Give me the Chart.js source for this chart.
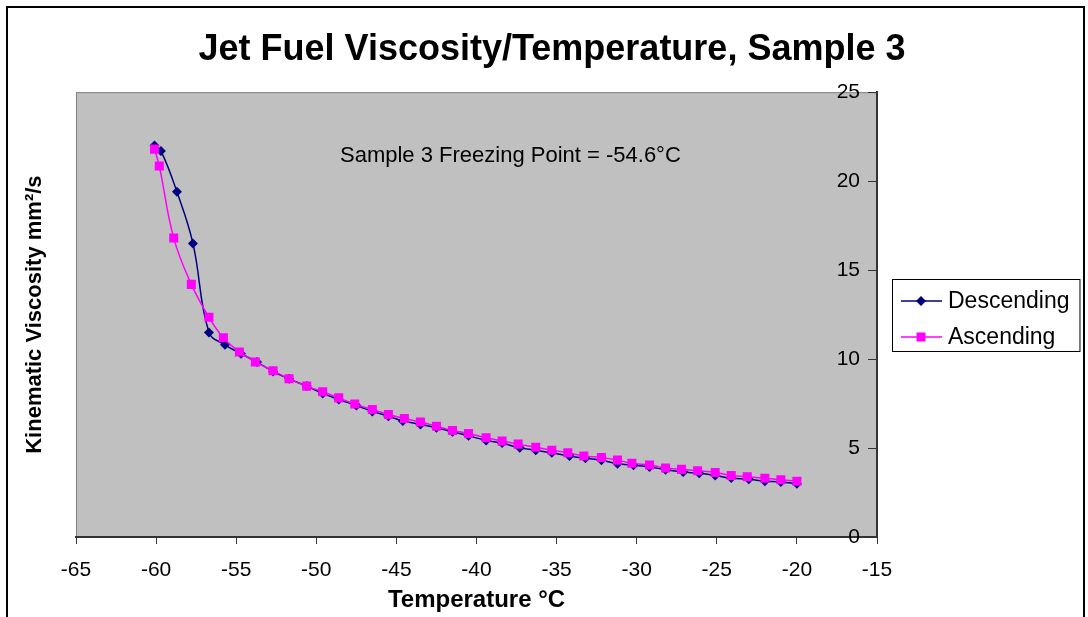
<!DOCTYPE html>
<html>
<head>
<meta charset="utf-8">
<title>Jet Fuel Viscosity/Temperature, Sample 3</title>
<script src="https://cdn.jsdelivr.net/npm/chart.js@4.4.1/dist/chart.umd.min.js"></script>
<style>
  html, body { margin: 0; padding: 0; background: #fff; overflow: hidden; }
  #frame { position: absolute; left: 6px; top: 6px; width: 1079px; height: 700px; border: 2px solid #000; box-sizing: border-box; }
  #wrap { position: absolute; left: 0; top: 0; width: 1088px; height: 617px; }
</style>
</head>
<body>
<div id="frame"></div>
<div id="wrap"><canvas id="viscChart" width="1088" height="617"></canvas></div>
<script>
// data
const descTemp = [-60.1, -59.7, -58.7, -57.7, -56.7, -55.7, -54.7, -53.7, -52.7, -51.7, -50.6, -49.6, -48.6, -47.5, -46.5, -45.5,
  -44.6, -43.5, -42.5, -41.5, -40.5, -39.4, -38.4, -37.3, -36.3, -35.3, -34.2, -33.2, -32.2, -31.2, -30.2, -29.2,
  -28.2, -27.1, -26.1, -25.1, -24.1, -23.0, -22.0, -21.0, -20.0];
const descVisc = [22.0, 21.7, 19.4, 16.5, 11.5, 10.8, 10.3, 9.83, 9.30, 8.89, 8.48, 8.07, 7.73, 7.39, 7.06, 6.79,
  6.52, 6.33, 6.14, 5.92, 5.69, 5.43, 5.28, 5.01, 4.88, 4.73, 4.55, 4.42, 4.32, 4.12, 4.03, 3.94,
  3.78, 3.65, 3.58, 3.46, 3.31, 3.24, 3.14, 3.09, 2.99];

const ascTemp = [-60.1, -59.8, -58.9, -57.8, -56.7, -55.8, -54.8, -53.8, -52.7, -51.7, -50.6, -49.6, -48.6, -47.6, -46.5, -45.5,
  -44.5, -43.5, -42.5, -41.5, -40.5, -39.4, -38.4, -37.4, -36.3, -35.3, -34.3, -33.3, -32.2, -31.2, -30.3, -29.2,
  -28.2, -27.2, -26.2, -25.1, -24.1, -23.1, -22.0, -21.0, -20.0];
const ascVisc = [21.8, 20.85, 16.8, 14.2, 12.35, 11.2, 10.4, 9.84, 9.34, 8.89, 8.48, 8.16, 7.82, 7.47, 7.17, 6.89,
  6.66, 6.46, 6.23, 5.99, 5.82, 5.58, 5.39, 5.22, 5.04, 4.88, 4.73, 4.55, 4.47, 4.32, 4.14, 4.05,
  3.88, 3.80, 3.72, 3.63, 3.46, 3.39, 3.30, 3.22, 3.13];

const xTicks = { min: -65, max: -15, step: 5 };
const yTicks = { min: 0, max: 25, step: 5 };
const note = 'Sample 3 Freezing Point = -54.6°C';

const FONT = '"Liberation Sans", Arial, sans-serif';
Chart.defaults.font.family = FONT;
Chart.defaults.color = '#000';

const toPoints = (xs, ys) => xs.map((t, i) => ({ x: t, y: ys[i] }));

// grey plot area with thin border
const plotArea = {
  id: 'plotArea',
  beforeDraw(chart) {
    const { ctx, chartArea: a } = chart;
    ctx.save();
    ctx.fillStyle = '#C0C0C0';
    ctx.fillRect(a.left, a.top, a.right - a.left, a.bottom - a.top);
    ctx.strokeStyle = '#808080';
    ctx.lineWidth = 1;
    ctx.strokeRect(a.left + 0.5, a.top + 0.5, a.right - a.left, a.bottom - a.top);
    ctx.restore();
  }
};

// inward ticks on y, the note text and the boxed legend
const extras = {
  id: 'extras',
  afterDraw(chart) {
    const { ctx, chartArea: a } = chart;
    const y = chart.scales.y;
    ctx.save();
    ctx.strokeStyle = '#333';
    ctx.lineWidth = 1;
    y.ticks.forEach(t => {
      const py = Math.round(y.getPixelForValue(t.value)) + 0.5;
      ctx.beginPath();
      ctx.moveTo(a.right - 9, py);
      ctx.lineTo(a.right, py);
      ctx.stroke();
    });

    ctx.fillStyle = '#000';
    ctx.font = '22px ' + FONT;
    ctx.textAlign = 'left';
    ctx.textBaseline = 'alphabetic';
    ctx.fillText(note, a.left + 264, a.top + 70);

    // legend
    const items = [chart.data.datasets[1], chart.data.datasets[0]];
    ctx.font = '23px ' + FONT;
    const textW = Math.max(...items.map(d => ctx.measureText(d.label).width));
    const bx = a.right + 15, bw = 56 + textW + 10, bh = 72;
    const by = Math.round((a.top + a.bottom) / 2 - bh / 2);
    ctx.fillStyle = '#fff';
    ctx.fillRect(bx, by, bw, bh);
    ctx.strokeStyle = '#000';
    ctx.strokeRect(bx + 0.5, by + 0.5, bw, bh);
    items.forEach((d, i) => {
      const cy = by + 22 + i * 36;
      ctx.strokeStyle = d.borderColor;
      ctx.lineWidth = 1.5;
      ctx.beginPath();
      ctx.moveTo(bx + 9, cy);
      ctx.lineTo(bx + 50, cy);
      ctx.stroke();
      ctx.fillStyle = d.backgroundColor;
      ctx.beginPath();
      if (d.pointStyle === 'rect') {
        ctx.rect(bx + 29 - 4.5, cy - 4.5, 9, 9);
      } else {
        ctx.moveTo(bx + 29, cy - 5);
        ctx.lineTo(bx + 34, cy);
        ctx.lineTo(bx + 29, cy + 5);
        ctx.lineTo(bx + 24, cy);
        ctx.closePath();
      }
      ctx.fill();
      ctx.fillStyle = '#000';
      ctx.textBaseline = 'middle';
      ctx.fillText(d.label, bx + 56, cy + 1);
    });
    ctx.restore();
  }
};

const ctx = document.getElementById('viscChart').getContext('2d');
new Chart(ctx, {
  type: 'line',
  data: {
    datasets: [
      {
        label: 'Ascending',
        data: toPoints(ascTemp, ascVisc),
        borderColor: '#FF00FF',
        backgroundColor: '#FF00FF',
        borderWidth: 1.5,
        pointStyle: 'rect',
        pointRadius: 6.4,
        pointBorderWidth: 0,
        tension: 0.4,
        order: 0
      },
      {
        label: 'Descending',
        data: toPoints(descTemp, descVisc),
        borderColor: '#000080',
        backgroundColor: '#000080',
        borderWidth: 1.5,
        pointStyle: 'rectRot',
        pointRadius: 5,
        pointBorderWidth: 0,
        tension: 0.4,
        order: 1
      }
    ]
  },
  options: {
    responsive: false,
    animation: false,
    layout: { padding: { left: 16 } },
    plugins: {
      legend: { display: false },
      tooltip: { enabled: false },
      title: {
        display: true,
        text: 'Jet Fuel Viscosity/Temperature, Sample 3',
        font: { size: 36, weight: 'bold' },
        color: '#000',
        padding: { top: 28, bottom: 21 }
      }
    },
    scales: {
      x: {
        type: 'linear',
        min: xTicks.min,
        max: xTicks.max,
        ticks: { stepSize: xTicks.step, font: { size: 21 }, color: '#000', padding: 14 },
        grid: { drawOnChartArea: false, tickLength: 7, color: '#333' },
        border: { color: '#333', width: 2 },
        title: { display: true, text: 'Temperature °C', font: { size: 24, weight: 'bold' }, color: '#000', padding: { top: 2, bottom: 2 } },
        afterFit: s => { s.height = 80; }
      },
      y: {
        type: 'linear',
        position: 'right',
        min: yTicks.min,
        max: yTicks.max,
        ticks: { stepSize: yTicks.step, mirror: true, padding: -17, font: { size: 21 }, color: '#000' },
        grid: { display: false },
        border: { display: true, color: '#333', width: 2 },
        afterFit: s => { s.width = 211; }
      },
      yTitle: {
        type: 'linear',
        axis: 'y',
        position: 'left',
        ticks: { display: false },
        grid: { display: false },
        border: { display: false },
        title: { display: true, text: 'Kinematic Viscosity mm²/s', font: { size: 22, weight: 'bold' }, color: '#000', padding: { top: 6, bottom: 0 } },
        afterFit: s => { s.width = 60; }
      }
    }
  },
  plugins: [plotArea, extras]
});
</script>
</body>
</html>
